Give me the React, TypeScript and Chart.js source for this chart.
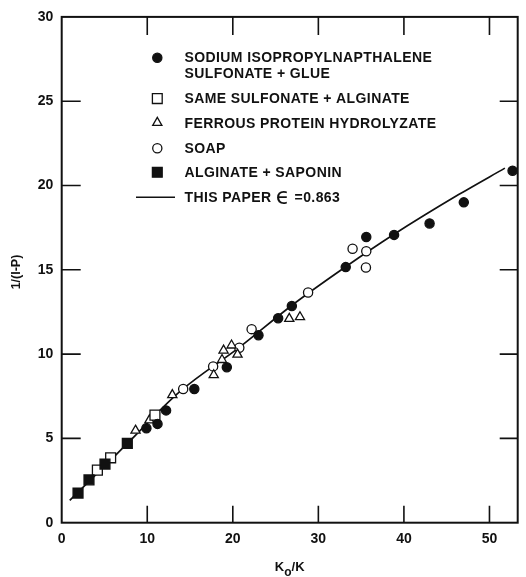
import React, { useEffect, useRef } from 'react';
import { Chart, registerables } from 'chart.js';

Chart.register(...registerables);

// ---- data ----
const sodiumX = [9.9, 11.2, 12.2, 15.5, 19.3, 23.0, 25.3, 26.9, 33.2, 35.6, 38.85, 43.0, 47.0, 52.7];
const sodiumY = [5.6, 5.86, 6.66, 7.93, 9.22, 11.12, 12.13, 12.85, 15.16, 16.95, 17.07, 17.75, 19.0, 20.88];

const sameSulfonateX = [4.17, 5.72, 10.9];
const sameSulfonateY = [3.12, 3.85, 6.38];

const ferrousX = [8.63, 10.25, 12.93, 17.77, 18.74, 18.92, 19.85, 20.55, 26.6, 27.85];
const ferrousY = [5.47, 6.08, 7.58, 8.76, 9.66, 10.22, 10.52, 9.98, 12.1, 12.2];

const soapX = [14.2, 17.7, 20.76, 22.2, 28.8, 34.0, 35.6, 35.56];
const soapY = [7.93, 9.27, 10.38, 11.48, 13.65, 16.25, 16.1, 15.14];

const alginateSaponinX = [1.91, 3.19, 5.06, 7.67];
const alginateSaponinY = [1.76, 2.54, 3.48, 4.7];

const curveX = [0.94, 4.5, 7.67, 13.8, 20.76, 26.85, 33.2, 38.8, 46.4, 51.8];
const curveY = [1.33, 3.1, 4.7, 7.77, 10.4, 12.87, 15.18, 17.09, 19.46, 21.03];

const xTicks = [0, 10, 20, 30, 40, 50];
const yTicks = [0, 5, 10, 15, 20, 25, 30];

const EPS = '\u03F5';
const legendLabels = [
  ['SODIUM ISOPROPYLNAPTHALENE', 'SULFONATE + GLUE'],
  ['SAME SULFONATE + ALGINATE'],
  ['FERROUS PROTEIN HYDROLYZATE'],
  ['SOAP'],
  ['ALGINATE + SAPONIN'],
  ['THIS PAPER ' + EPS + ' =0.863'],
];
const xTitleParts = ['K', 'o', '/K'];
const yTitle = '1/(I-P)';

// ---- styles ----
const INK = '#111';
const FONT = "'Liberation Sans', Arial, Helvetica, sans-serif";
const W = 526;
const H = 577;

const pts = (xs: number[], ys: number[]) => xs.map((x, i) => ({ x, y: ys[i] }));

function marker(ctx: CanvasRenderingContext2D, kind: string, x: number, y: number) {
  ctx.save();
  ctx.strokeStyle = INK;
  ctx.lineWidth = 1.3;
  ctx.beginPath();
  if (kind === 'fcircle' || kind === 'ocircle') {
    ctx.arc(x, y, 4.6, 0, Math.PI * 2);
    ctx.fillStyle = kind === 'fcircle' ? INK : '#fff';
    ctx.fill();
    ctx.stroke();
  } else if (kind === 'fsquare' || kind === 'osquare') {
    const s = 4.9;
    ctx.rect(x - s, y - s, 2 * s, 2 * s);
    ctx.fillStyle = kind === 'fsquare' ? INK : '#fff';
    ctx.fill();
    ctx.stroke();
  } else if (kind === 'triangle') {
    const r = 5.3;
    const cy = y - 0.25 * r;
    for (let k = 0; k < 3; k++) {
      const a = (k * 2 * Math.PI) / 3;
      const px = x + Math.sin(a) * r;
      const py = cy - Math.cos(a) * r;
      if (k === 0) ctx.moveTo(px, py);
      else ctx.lineTo(px, py);
    }
    ctx.closePath();
    ctx.fillStyle = '#fff';
    ctx.fill();
    ctx.stroke();
  } else if (kind === 'line') {
    ctx.lineWidth = 1.6;
    ctx.moveTo(136, y);
    ctx.lineTo(175, y);
    ctx.stroke();
  }
  ctx.restore();
}

const legendKinds = ['fcircle', 'osquare', 'triangle', 'ocircle', 'fsquare', 'line'];
const legendRowsY = [57.8, 98.6, 124, 148.3, 172.3, 197.3];

function drawLegendText(ctx: CanvasRenderingContext2D, t: string, x: number, y: number) {
  const base = `bold 14px ${FONT}`;
  const parts = t.split(EPS);
  let cx = x;
  parts.forEach((p, i) => {
    ctx.font = base;
    ctx.fillText(p, cx, y);
    cx += ctx.measureText(p).width;
    if (i < parts.length - 1) {
      ctx.font = `23px 'DejaVu Sans', ${FONT}`;
      ctx.fillText(EPS, cx, y + 0.5);
      cx += ctx.measureText(EPS).width;
    }
  });
}

const framePlugin = {
  id: 'frame',
  afterDraw(chart: any) {
    const { ctx, chartArea: a, scales } = chart;
    const xs = scales.x;
    const ys = scales.y;
    ctx.save();
    ctx.strokeStyle = INK;
    ctx.lineWidth = 2;
    ctx.strokeRect(a.left, a.top, a.right - a.left, a.bottom - a.top);
    ctx.lineWidth = 1.6;
    ctx.beginPath();
    xTicks.forEach((v) => {
      if (v <= 0) return;
      const px = xs.getPixelForValue(v);
      ctx.moveTo(px, a.bottom);
      ctx.lineTo(px, a.bottom - 17);
      ctx.moveTo(px, a.top);
      ctx.lineTo(px, a.top + 18);
    });
    yTicks.forEach((v) => {
      if (v <= 0 || v >= 30) return;
      const py = ys.getPixelForValue(v);
      ctx.moveTo(a.left, py);
      ctx.lineTo(a.left + 19, py);
      ctx.moveTo(a.right, py);
      ctx.lineTo(a.right - 18, py);
    });
    ctx.stroke();

    // y title
    ctx.fillStyle = INK;
    ctx.save();
    ctx.translate(17, 272);
    ctx.rotate(-Math.PI / 2);
    ctx.font = `bold 12.5px ${FONT}`;
    ctx.textAlign = 'center';
    ctx.textBaseline = 'middle';
    ctx.fillText(yTitle, 0, 0);
    ctx.restore();

    // x title with subscript
    ctx.textAlign = 'left';
    ctx.textBaseline = 'alphabetic';
    ctx.font = `bold 13px ${FONT}`;
    const w0 = ctx.measureText(xTitleParts[0]).width;
    const w2 = ctx.measureText(xTitleParts[2]).width;
    ctx.font = `bold 12px ${FONT}`;
    const w1 = ctx.measureText(xTitleParts[1]).width;
    const cx = (a.left + a.right) / 2;
    let x0 = cx - (w0 + w1 + w2) / 2;
    ctx.font = `bold 13px ${FONT}`;
    ctx.fillText(xTitleParts[0], x0, 571);
    x0 += w0;
    ctx.font = `bold 12px ${FONT}`;
    ctx.fillText(xTitleParts[1], x0, 576);
    x0 += w1;
    ctx.font = `bold 13px ${FONT}`;
    ctx.fillText(xTitleParts[2], x0, 571);

    // legend
    (ctx as any).letterSpacing = '0.4px';
    ctx.textBaseline = 'middle';
    legendLabels.forEach((lines, i) => {
      const y = legendRowsY[i];
      marker(ctx, legendKinds[i], 157.3, y);
      lines.forEach((t, j) => {
        ctx.fillStyle = INK;
        drawLegendText(ctx, t, 184.5, y + j * 15.8 + 0.5);
      });
    });
    ctx.restore();
  },
};

export default function App() {
  const ref = useRef<HTMLCanvasElement>(null);
  useEffect(() => {
    if (!ref.current) return;
    const pointBase = { borderColor: INK, borderWidth: 1.3, showLine: false, pointHoverRadius: 0 };
    const chart = new Chart(ref.current, {
      type: 'scatter',
      data: {
        datasets: [
          {
            ...pointBase,
            label: legendLabels[4][0],
            data: pts(alginateSaponinX, alginateSaponinY),
            pointStyle: 'rect',
            pointRadius: 7,
            backgroundColor: INK,
            order: 0,
          },
          {
            ...pointBase,
            label: legendLabels[0].join(' '),
            data: pts(sodiumX, sodiumY),
            pointStyle: 'circle',
            pointRadius: 4.6,
            backgroundColor: INK,
            order: 1,
          },
          {
            ...pointBase,
            label: legendLabels[1][0],
            data: pts(sameSulfonateX, sameSulfonateY),
            pointStyle: 'rect',
            pointRadius: 7,
            backgroundColor: '#fff',
            order: 2,
          },
          {
            ...pointBase,
            label: legendLabels[2][0],
            data: pts(ferrousX, ferrousY),
            pointStyle: 'triangle',
            pointRadius: 5.3,
            backgroundColor: '#fff',
            order: 3,
          },
          {
            ...pointBase,
            label: legendLabels[3][0],
            data: pts(soapX, soapY),
            pointStyle: 'circle',
            pointRadius: 4.6,
            backgroundColor: '#fff',
            order: 4,
          },
          {
            label: legendLabels[5][0],
            data: pts(curveX, curveY),
            showLine: true,
            borderColor: INK,
            borderWidth: 1.7,
            pointRadius: 0,
            pointHoverRadius: 0,
            cubicInterpolationMode: 'monotone',
            fill: false,
            order: 10,
          } as any,
        ],
      },
      options: {
        animation: false,
        responsive: false,
        maintainAspectRatio: false,
        events: [],
        layout: { padding: { top: 9.5, right: 7, left: 0, bottom: 0 } },
        plugins: {
          legend: { display: false },
          tooltip: { enabled: false },
          title: { display: false },
        },
        scales: {
          x: {
            type: 'linear',
            position: 'bottom',
            min: 0,
            max: 53.3,
            grid: { display: false, drawTicks: false },
            border: { display: false },
            title: { display: false },
            ticks: {
              color: INK,
              font: { family: FONT, size: 14, weight: 'bold' },
              padding: 8,
              maxRotation: 0,
              autoSkip: false,
            },
            afterBuildTicks: (axis: any) => {
              axis.ticks = xTicks.map((v) => ({ value: v }));
            },
            afterFit: (axis: any) => {
              axis.height = 54.3;
            },
          },
          y: {
            type: 'linear',
            position: 'left',
            min: 0,
            max: 30,
            grid: { display: false, drawTicks: false },
            border: { display: false },
            title: { display: false },
            ticks: {
              color: INK,
              font: { family: FONT, size: 14, weight: 'bold' },
              padding: 8.5,
              autoSkip: false,
            },
            afterBuildTicks: (axis: any) => {
              axis.ticks = yTicks.map((v) => ({ value: v }));
            },
            afterFit: (axis: any) => {
              axis.width = 61.7;
            },
          },
        },
      } as any,
      plugins: [framePlugin],
    });
    return () => chart.destroy();
  }, []);

  return (
    <div style={{ position: 'absolute', left: 0, top: 0, width: W, height: H, background: '#fff' }}>
      <canvas ref={ref} width={W} height={H} style={{ display: 'block', width: W, height: H }} />
    </div>
  );
}
